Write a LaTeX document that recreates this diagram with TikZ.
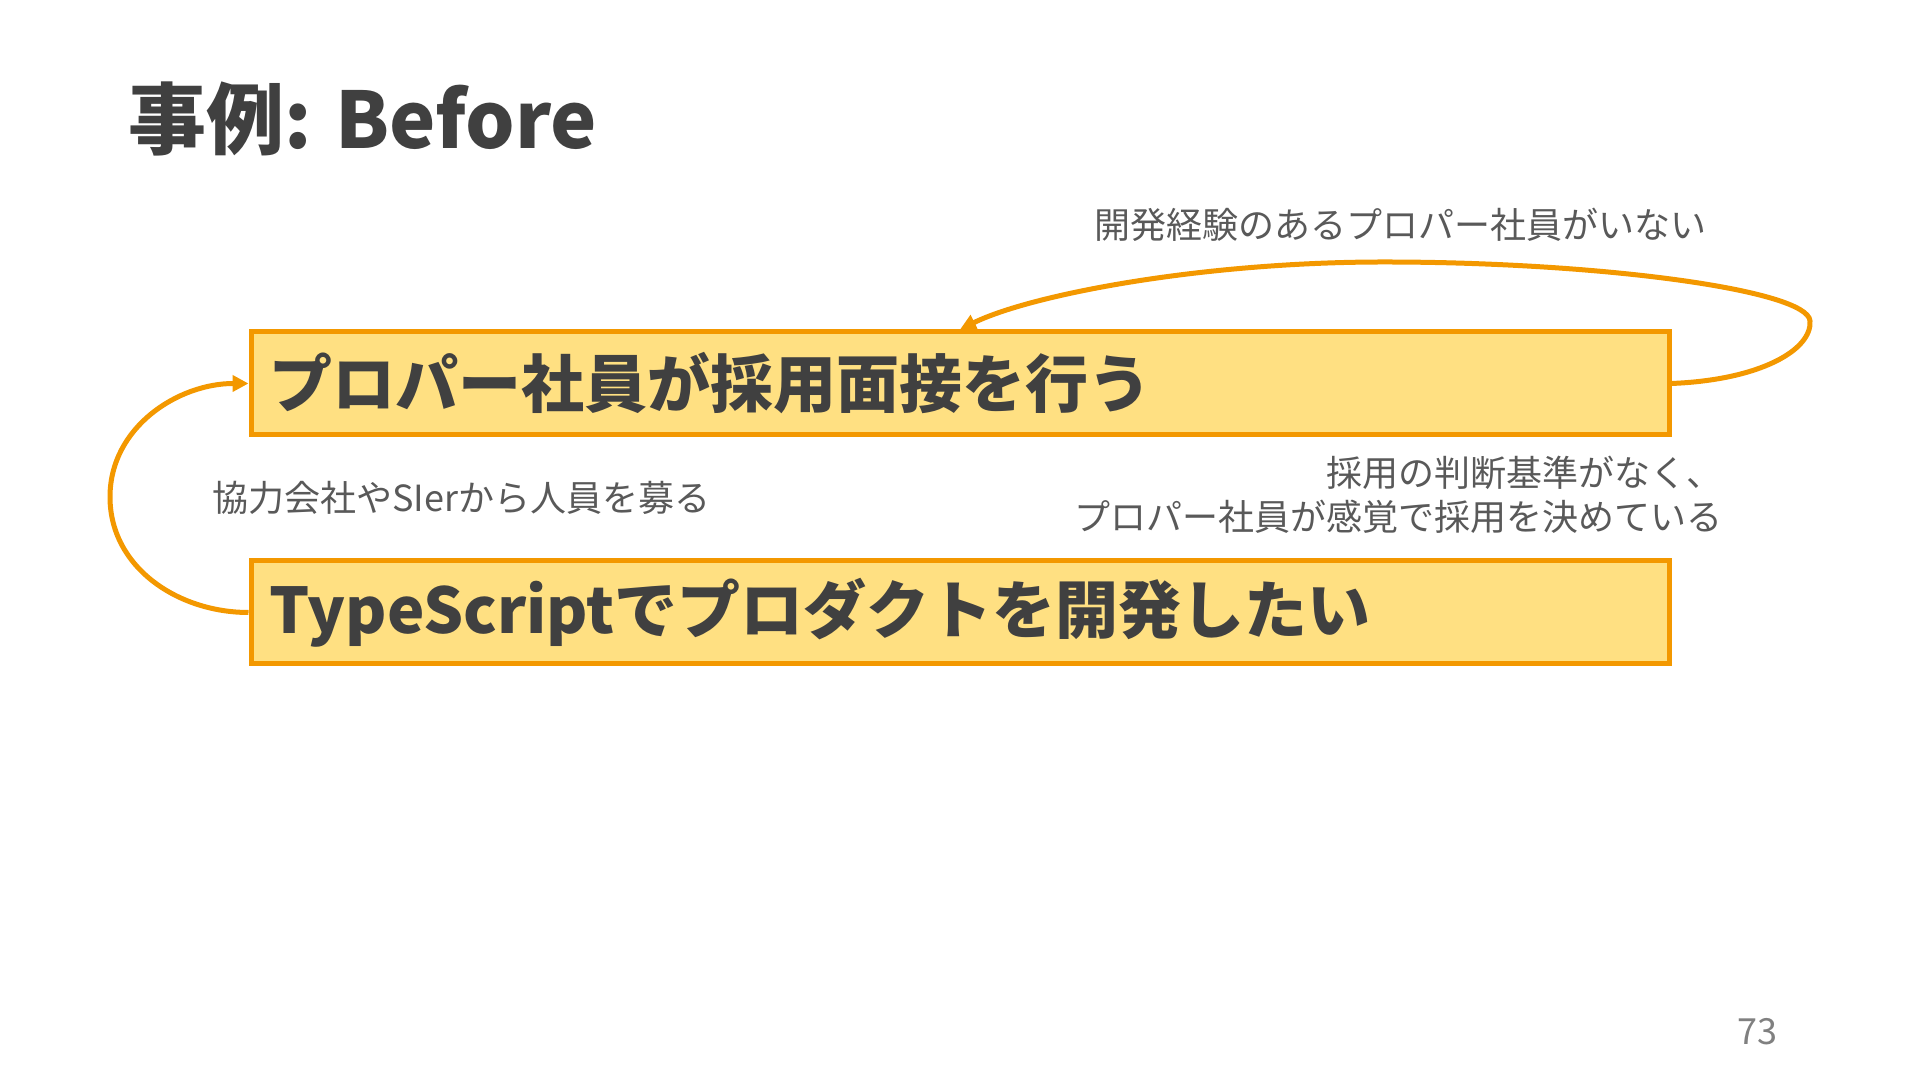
\documentclass[tikz,border=0pt]{standalone}
\usepackage{fontspec}
\usepackage{tikz}
\usetikzlibrary{arrows.meta}
\setmainfont{Noto Sans CJK JP}
\definecolor{ink}{HTML}{404040}
\definecolor{grayink}{HTML}{595959}
\definecolor{edge}{HTML}{F39800}
\definecolor{task}{HTML}{FFE082}
\tikzset{title/.style={ink,anchor=west,inner sep=0pt,font=\fontsize{39pt}{44pt}\selectfont\bfseries}}
\tikzset{task/.style={ink,draw=edge,fill=task,line width=2.5pt,rectangle,minimum width=709pt,minimum height=51.5pt,text width=691pt,align=left,inner xsep=9pt,font=\fontsize{31.5pt}{36pt}\selectfont\bfseries}}
\tikzset{note/.style={grayink,inner sep=0pt,font=\fontsize{18pt}{22pt}\selectfont}}
\tikzset{pagenum/.style={gray,inner sep=0pt,font=\fontsize{18pt}{22pt}\selectfont}}
\tikzset{loop/.style={draw=edge,line width=2.5pt,-{Triangle[length=8pt,width=8pt]}}}

\begin{document}
\begin{tikzpicture}[x=0.5pt,y=0.5pt]
    \useasboundingbox (0,0) rectangle (1920,1080);
    \node[title] (title) at (128,961) {事例: Before};

    \node[task] (interview) at (960,696.5) {プロパー社員が採用面接を行う};
    \node[task] (goal) at (960,467.5) {TypeScriptでプロダクトを開発したい};

    \node[note] (nohire) at (1400,855) {開発経験のあるプロパー社員がいない};
    \node[note,anchor=west] (outsource) at (212,582) {協力会社やSIerから人員を募る};
    \node[note,anchor=east,align=right] (nocriteria) at (1723,585) {採用の判断基準がなく、\\プロパー社員が感覚で採用を決めている};

    \node[pagenum] (page) at (1757,48) {73};

    \draw[loop] (goal.west) to[out=180,in=-90] (110,583) to[out=90,in=180] (interview.west);
    \draw[loop] (interview.east) .. controls (1760,700) and (1812,730) .. (1810,759)
        .. controls (1808,790) and (1600,818) .. (1384,818)
        .. controls (1200,818) and (1030,785) .. (interview.north);
\end{tikzpicture}
\end{document}
